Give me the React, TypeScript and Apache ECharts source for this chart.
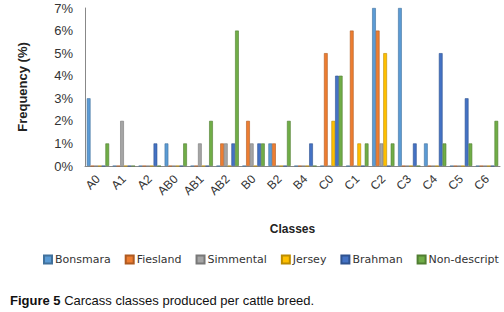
import React, { useEffect, useRef } from "react";
import * as echarts from "echarts";

const categories = ["A0", "A1", "A2", "AB0", "AB1", "AB2", "B0", "B2", "B4", "C0", "C1", "C2", "C3", "C4", "C5", "C6"];
const bonsmara = [3, 0, 0, 1, 0, 0, 0, 1, 0, 0, 0, 7, 7, 1, 0, 0];
const fiesland = [0, 0, 0, 0, 0, 1, 2, 1, 0, 5, 6, 6, 0, 0, 0, 0];
const simmental = [0, 2, 0, 0, 1, 1, 1, 0, 0, 0, 0, 1, 0, 0, 0, 0];
const jersey = [0, 0, 0, 0, 0, 0, 0, 0, 0, 2, 1, 5, 0, 0, 0, 0];
const brahman = [0, 0, 1, 0, 0, 1, 1, 0, 1, 4, 0, 0, 1, 5, 3, 0];
const nonDescript = [1, 0, 0, 1, 2, 6, 1, 2, 0, 4, 1, 1, 0, 1, 1, 2];
const yTicks = [0, 1, 2, 3, 4, 5, 6, 7];

const seriesDefs = [
  { name: "Bonsmara", data: bonsmara, color: "#5B9BD5", edge: "#41719C" },
  { name: "Fiesland", data: fiesland, color: "#ED7D31", edge: "#AE5A21" },
  { name: "Simmental", data: simmental, color: "#A5A5A5", edge: "#787878" },
  { name: "Jersey", data: jersey, color: "#FFC000", edge: "#BC8C00" },
  { name: "Brahman", data: brahman, color: "#4472C4", edge: "#2F528F" },
  { name: "Non-descript", data: nonDescript, color: "#70AD47", edge: "#507E32" },
];

export default function App() {
  const ref = useRef<HTMLDivElement>(null);
  useEffect(() => {
    if (!ref.current) return;
    const chart = echarts.init(ref.current, null, { renderer: "svg" });
    chart.setOption({
      animation: false,
      backgroundColor: "#ffffff",
      grid: { left: 85, right: 4, top: 8, bottom: 146, containLabel: false },
      legend: {
        left: 43,
        top: 254,
        width: 470,
        itemWidth: 8,
        itemHeight: 8,
        itemGap: 14,
        padding: 0,
        icon: "rect",
        textStyle: { fontFamily: "DejaVu Sans", fontSize: 11, color: "#333", padding: [0, 0, 0, -2] },
        data: seriesDefs.map((s) => s.name),
      },
      xAxis: {
        type: "category",
        data: categories,
        name: "Classes",
        nameLocation: "middle",
        nameGap: 57,
        nameTextStyle: { fontFamily: "Liberation Sans", fontWeight: "bold", fontSize: 12, color: "#222" },
        axisLine: { lineStyle: { color: "#888", width: 1 } },
        axisTick: { show: false },
        axisLabel: {
          rotate: 45,
          interval: 0,
          fontFamily: "Liberation Sans",
          fontSize: 12,
          color: "#333",
          margin: 11,
        },
      },
      yAxis: {
        type: "value",
        min: yTicks[0],
        max: yTicks[yTicks.length - 1],
        interval: 1,
        name: "Frequency (%)",
        nameLocation: "middle",
        nameGap: 56,
        nameRotate: 90,
        nameTextStyle: { fontFamily: "Liberation Sans", fontWeight: "bold", fontSize: 13, color: "#222" },
        axisLine: { show: true, lineStyle: { color: "#888", width: 1 } },
        axisTick: { show: false },
        splitLine: { show: false },
        axisLabel: {
          formatter: "{value}%",
          fontFamily: "Liberation Sans",
          fontSize: 13,
          color: "#333",
          margin: 12,
        },
      },
      series: seriesDefs.map((s) => ({
        name: s.name,
        type: "bar",
        data: s.data,
        barGap: "0%",
        barCategoryGap: "14%",
        itemStyle: { color: s.color, borderColor: s.edge, borderWidth: 0.6 },
      })),
      graphic: [
        {
          type: "text",
          left: 10,
          top: 294,
          style: {
            text: "{b|Figure 5} Carcass classes produced per cattle breed.",
            rich: {
              b: { fontFamily: "Liberation Sans", fontWeight: "bold", fontSize: 13, fill: "#111" },
            },
            fontFamily: "Liberation Sans",
            fontSize: 13,
            fill: "#111",
          },
        },
      ],
    });
    return () => chart.dispose();
  }, []);
  return <div ref={ref} style={{ width: 504, height: 312, position: "absolute", left: 0, top: 0 }} />;
}
